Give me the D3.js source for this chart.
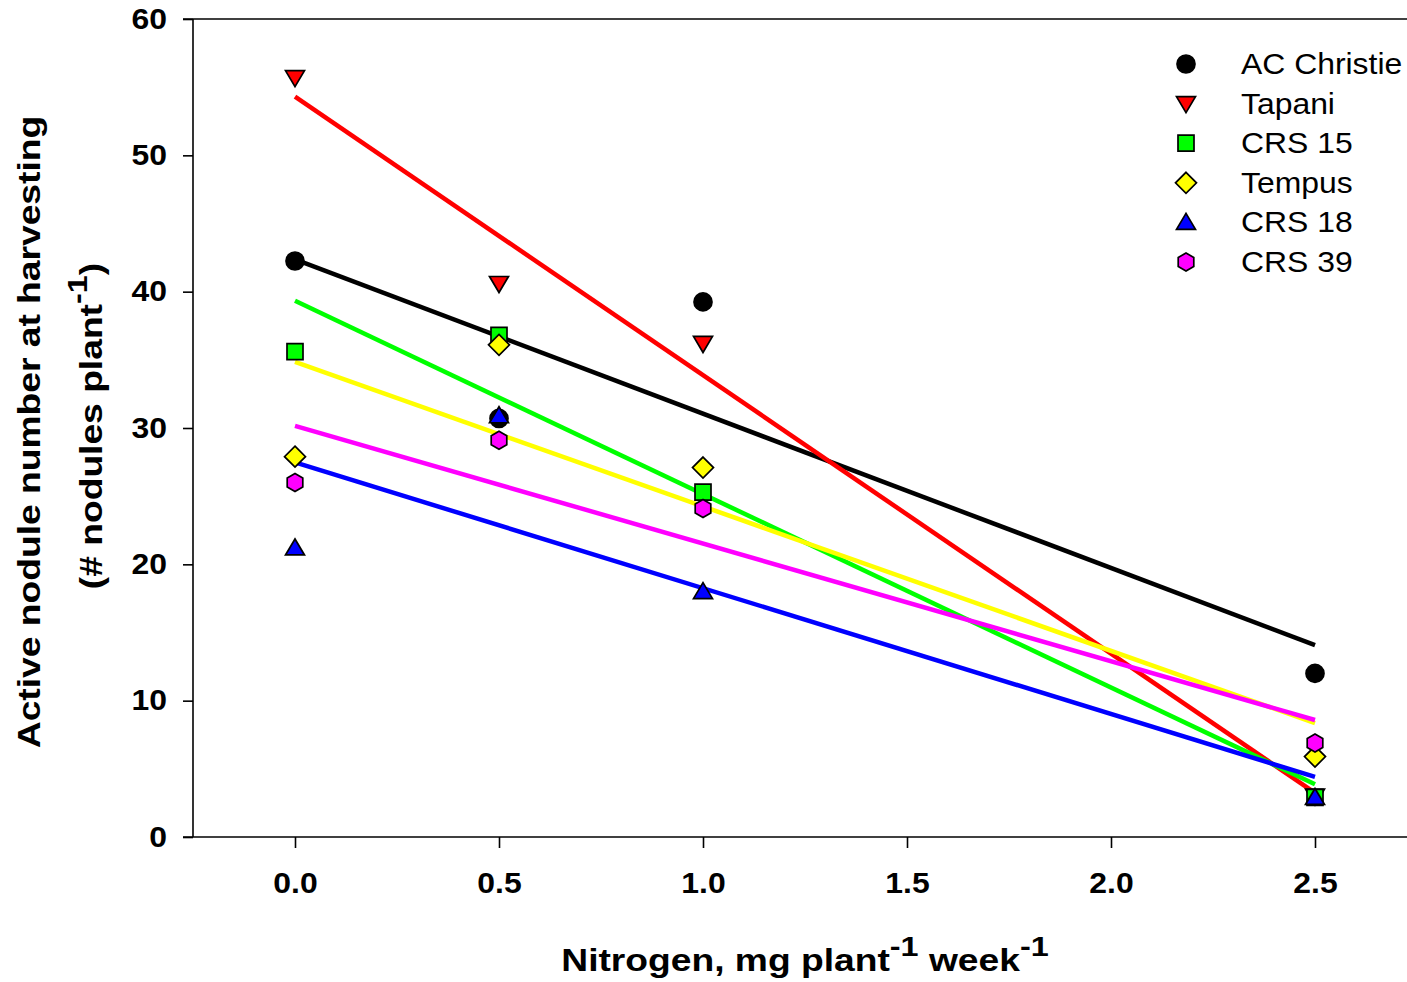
<!DOCTYPE html>
<html>
<head>
<meta charset="utf-8">
<script src="https://cdn.jsdelivr.net/npm/d3@7"></script>
<style>
  body { margin: 0; background: #fff; }
  text { font-family: "Liberation Sans", Arial, sans-serif; }
</style>
</head>
<body>
<svg id="chart" width="1407" height="982"></svg>
<script>
// nitrogen levels and values per cultivar
var nitrogen = [0, 0.5, 1.0, 2.5];
var names = ["AC Christie", "Tapani", "CRS 15", "Tempus", "CRS 18", "CRS 39"];
var acChristie = [42.25, 30.7, 39.25, 12.0];
var tapani = [55.7, 40.6, 36.2, 3.0];
var crs15 = [35.6, 36.8, 25.3, 2.9];
var tempus = [27.9, 36.1, 27.1, 5.9];
var crs18 = [21.2, 30.9, 18.0, 2.9];
var crs39 = [26.0, 29.1, 24.1, 6.9];
var xTicks = [0, 0.5, 1.0, 1.5, 2.0, 2.5];
var yTicks = [0, 10, 20, 30, 40, 50, 60];

var colors = ["#000000", "#ff0000", "#00ff00", "#ffff00", "#0000ff", "#ff00ff"];
var shapes = ["circle", "down", "square", "diamond", "up", "hex"];
var values = [acChristie, tapani, crs15, tempus, crs18, crs39];

var series = names.map(function(n, i) {
    return { name: n, color: colors[i], shape: shapes[i], vals: values[i] };
});

var svg = d3.select("#chart");
var x = d3.scaleLinear().domain([-0.25, 2.75]).range([193, 1417]);
var y = d3.scaleLinear().domain([0, 60]).range([837, 19]);
var sx = 1.1; // text in the original is a bit wide

function shapePath(s) {
    if (s == "circle") return d3.symbol().type(d3.symbolCircle).size(Math.PI * 9 * 9)();
    if (s == "square") return "M-8,-8H8V8H-8Z";
    if (s == "diamond") return "M0,-10.5L10.5,0L0,10.5L-10.5,0Z";
    if (s == "down") return "M-9.5,-7L9.5,-7L0,9Z";
    if (s == "up") return "M-9.5,7L9.5,7L0,-9Z";
    if (s == "hex") {
        var p = [];
        for (var k = 0; k < 6; k++) {
            var a = Math.PI / 3 * k - Math.PI / 2;
            p.push([9 * Math.cos(a), 9 * Math.sin(a)]);
        }
        return "M" + p.join("L") + "Z";
    }
}

// least squares fit
function fit(xv, yv) {
    var mx = d3.mean(xv), my = d3.mean(yv);
    var sxy = 0, sxx = 0;
    xv.forEach(function(d, i) { sxy += (d - mx) * (yv[i] - my); sxx += (d - mx) * (d - mx); });
    var b = sxy / sxx;
    return { a: my - b * mx, b: b };
}

// axes
var xAxis = svg.append("g").attr("transform", "translate(0,837)")
    .call(d3.axisBottom(x).tickValues(xTicks).tickSize(11).tickSizeOuter(0).tickFormat(d3.format(".1f")));
xAxis.select(".domain").remove();
xAxis.selectAll("line").attr("stroke-width", 1.6);
xAxis.selectAll("text").attr("font-size", 29).attr("font-weight", "bold").attr("fill", "#000")
    .attr("y", 35).attr("dy", "0.71em").attr("transform", "scale(" + sx + ",1)");

var yAxis = svg.append("g").attr("transform", "translate(193,0)")
    .call(d3.axisLeft(y).tickValues(yTicks).tickSize(10).tickSizeOuter(0));
yAxis.select(".domain").remove();
yAxis.selectAll("line").attr("stroke-width", 1.6);
yAxis.selectAll("text").attr("font-size", 29).attr("font-weight", "bold").attr("fill", "#000")
    .attr("x", -26 / sx).attr("transform", "scale(" + sx + ",1)");

svg.append("line").attr("x1", 193).attr("x2", 193).attr("y1", 19).attr("y2", 837).attr("stroke", "#000").attr("stroke-width", 1.6);
svg.append("line").attr("x1", 183).attr("x2", 1407).attr("y1", 19).attr("y2", 19).attr("stroke", "#000").attr("stroke-width", 1.6);
svg.append("line").attr("x1", 183).attr("x2", 1407).attr("y1", 837).attr("y2", 837).attr("stroke", "#000").attr("stroke-width", 1.6);

// fitted lines
series.forEach(function(s) {
    var f = fit(nitrogen, s.vals);
    svg.append("line")
        .attr("x1", x(0)).attr("y1", y(f.a))
        .attr("x2", x(2.5)).attr("y2", y(f.a + f.b * 2.5))
        .attr("stroke", s.color).attr("stroke-width", 4.5);
});

// points
series.forEach(function(s) {
    svg.selectAll(null).data(s.vals).enter().append("path")
        .attr("d", shapePath(s.shape))
        .attr("transform", function(d, i) { return "translate(" + x(nitrogen[i]) + "," + y(d) + ")"; })
        .attr("fill", s.color).attr("stroke", "#000").attr("stroke-width", 1.7);
});

// legend
var legend = svg.append("g").attr("transform", "translate(1186,64)");
series.forEach(function(s, i) {
    var g = legend.append("g").attr("transform", "translate(0," + (i * 39.6) + ")");
    g.append("path").attr("d", shapePath(s.shape)).attr("fill", s.color).attr("stroke", "#000").attr("stroke-width", 1.7);
    g.append("text").attr("transform", "translate(55,10) scale(" + sx + ",1)").attr("font-size", 29).text(s.name);
});

// axis titles
var xt = svg.append("text").attr("transform", "translate(805,971) scale(1.2,1)").attr("text-anchor", "middle")
    .attr("font-size", 31).attr("font-weight", "bold");
xt.append("tspan").text("Nitrogen, mg plant");
xt.append("tspan").attr("font-size", 27).attr("dy", -15).text("-1");
xt.append("tspan").attr("dy", 15).text(" week");
xt.append("tspan").attr("font-size", 27).attr("dy", -15).text("-1");

var yt = svg.append("g").attr("transform", "translate(40,432) rotate(-90) scale(1.2,1)");
yt.append("text").attr("text-anchor", "middle").attr("font-size", 31).attr("font-weight", "bold")
    .text("Active nodule number at harvesting");
var yt2 = yt.append("text").attr("text-anchor", "middle").attr("x", 5).attr("y", 62).attr("font-size", 31).attr("font-weight", "bold");
yt2.append("tspan").text("(# nodules plant");
yt2.append("tspan").attr("font-size", 27).attr("dy", -15).text("-1");
yt2.append("tspan").attr("dy", 15).text(")");
</script>
</body>
</html>
